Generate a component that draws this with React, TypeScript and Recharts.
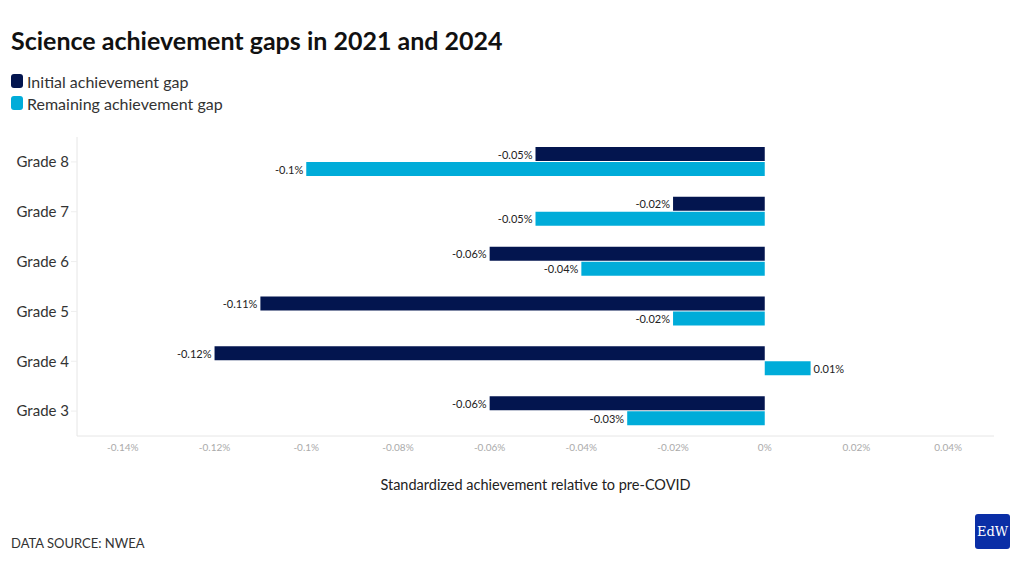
import React from "react";
import { BarChart, Bar, XAxis, YAxis, LabelList } from "recharts";

const grades = ["Grade 8", "Grade 7", "Grade 6", "Grade 5", "Grade 4", "Grade 3"];
const initialGap = [-0.05, -0.02, -0.06, -0.11, -0.12, -0.06];
const remainingGap = [-0.1, -0.05, -0.04, -0.02, 0.01, -0.03];
const xTicks = [-0.14, -0.12, -0.1, -0.08, -0.06, -0.04, -0.02, 0, 0.02, 0.04];

const seriesNames = ["Initial achievement gap", "Remaining achievement gap"];
const colors = ["#03154f", "#00acd9"];

const data = grades.map((g, i) => ({
  grade: g,
  initial: initialGap[i],
  remaining: remainingGap[i],
}));

const FONT = "Lato, 'Noto Sans', sans-serif";

const fmt = (v: number) => `${parseFloat(v.toFixed(4))}%`;

const renderLabel = (props: any) => {
  const { x, y, width, height, value } = props;
  const x0 = Number(x);
  const w = Number(width);
  const left = Math.min(x0, x0 + w);
  const right = Math.max(x0, x0 + w);
  const neg = Number(value) < 0;
  return (
    <text
      x={neg ? left - 3 : right + 3}
      y={Number(y) + Number(height) / 2}
      textAnchor={neg ? "end" : "start"}
      dominantBaseline="central"
      fontSize={11}
      fontFamily={FONT}
      fill="#222"
    >
      {fmt(Number(value))}
    </text>
  );
};

export default function App() {
  return (
    <div
      style={{
        position: "fixed",
        left: 0,
        top: 0,
        width: 1020,
        height: 564,
        background: "#fff",
        fontFamily: FONT,
      }}
    >
      <div
        style={{
          position: "absolute",
          left: 11,
          top: 25,
          fontSize: 25,
          fontWeight: 700,
          color: "#111",
          whiteSpace: "nowrap",
        }}
      >
        Science achievement gaps in 2021 and 2024
      </div>
      <div style={{ position: "absolute", left: 11, top: 70 }}>
        {seriesNames.map((n, i) => (
          <div key={n} style={{ display: "flex", alignItems: "center", height: 22 }}>
            <span
              style={{
                display: "inline-block",
                width: 12,
                height: 14,
                borderRadius: 3,
                background: colors[i],
                marginRight: 4,
              }}
            />
            <span style={{ fontSize: 16, color: "#333" }}>{n}</span>
          </div>
        ))}
      </div>
      <div style={{ position: "absolute", left: 0, top: 0 }}>
        <BarChart
          width={1020}
          height={564}
          data={data}
          layout="vertical"
          margin={{ top: 137, right: 26, bottom: 98, left: 0 }}
          barGap={1}
          barCategoryGap={10}
        >
          <XAxis
            type="number"
            domain={[-0.15, 0.05]}
            ticks={xTicks}
            tickFormatter={fmt}
            tick={{ fontSize: 10, fill: "#aaa", fontFamily: FONT }}
            tickLine={false}
            axisLine={{ stroke: "#e6e6e6" }}
            height={30}
            label={{
              value: "Standardized achievement relative to pre-COVID",
              position: "insideBottom",
              offset: -24,
              fontSize: 14.5,
              fill: "#222",
              fontFamily: FONT,
            }}
          />
          <YAxis
            type="category"
            dataKey="grade"
            width={77}
            tick={{ fontSize: 15, fill: "#333", fontFamily: FONT }}
            tickLine={{ stroke: "#eee" }}
            axisLine={{ stroke: "#e6e6e6" }}
          />
          <Bar dataKey="initial" name={seriesNames[0]} fill={colors[0]} isAnimationActive={false}>
            <LabelList dataKey="initial" content={renderLabel} />
          </Bar>
          <Bar dataKey="remaining" name={seriesNames[1]} fill={colors[1]} isAnimationActive={false}>
            <LabelList dataKey="remaining" content={renderLabel} />
          </Bar>
        </BarChart>
      </div>
      <div style={{ position: "absolute", left: 11, top: 535, fontSize: 13, color: "#333" }}>
        DATA SOURCE: NWEA
      </div>
      <div
        style={{
          position: "absolute",
          left: 975,
          top: 514,
          width: 35,
          height: 35,
          borderRadius: 3,
          background: "#0a2ea6",
          color: "#fff",
          fontFamily: "'DejaVu Serif', 'Liberation Serif', serif",
          fontSize: 13,
          display: "flex",
          alignItems: "center",
          justifyContent: "center",
        }}
      >
        EdW
      </div>
    </div>
  );
}
